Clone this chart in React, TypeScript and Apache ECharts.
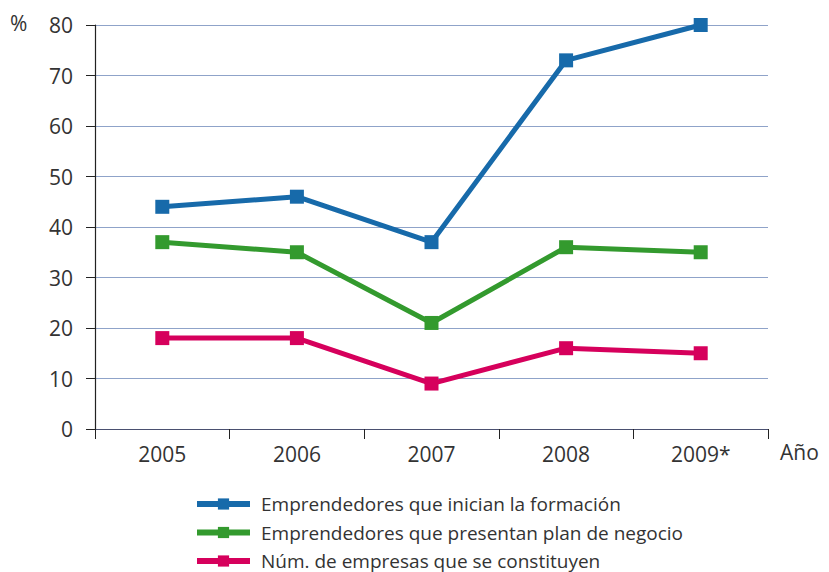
import React, { useEffect, useRef } from "react";
import * as echarts from "echarts";

const categories = ["2005", "2006", "2007", "2008", "2009*"];
const seriesNames = [
  "Emprendedores que inician la formación",
  "Emprendedores que presentan plan de negocio",
  "Núm. de empresas que se constituyen",
];
const iniciaFormacion = [44, 46, 37, 73, 80];
const presentanPlan = [37, 35, 21, 36, 35];
const empresasConstituyen = [18, 18, 9, 16, 15];
const colors = ["#176aaa", "#339a2e", "#d6005c"];

const FONT = "'Open Sans', 'Noto Sans', sans-serif";

export default function App() {
  const ref = useRef<HTMLDivElement>(null);
  useEffect(() => {
    if (!ref.current) return;
    const chart = echarts.init(ref.current, null, { renderer: "svg" });
    const values = [iniciaFormacion, presentanPlan, empresasConstituyen];
    const legendTops = [489, 517.5, 546];
    chart.setOption({
      animation: false,
      textStyle: { fontFamily: FONT },
      grid: { left: 95, top: 25, right: 61, bottom: 143, containLabel: false },
      legend: seriesNames.map((name, i) => ({
        orient: "vertical",
        left: 189,
        top: legendTops[i],
        itemWidth: 53,
        itemHeight: 14,
        lineStyle: { width: 6 },
        textStyle: { fontSize: 19, lineHeight: 20, color: "#333", fontFamily: FONT, padding: [0, 0, 0, 6] },
        data: [name],
      })),
      xAxis: {
        type: "category",
        data: categories,
        boundaryGap: true,
        axisLine: { lineStyle: { color: "#4a5070", width: 1.2 } },
        axisTick: { show: true, length: 10, inside: false, lineStyle: { color: "#222" } },
        axisLabel: { fontSize: 21, color: "#333", margin: 14, fontFamily: FONT },
        splitLine: { show: false },
      },
      yAxis: {
        type: "value",
        min: 0,
        max: 80,
        interval: 10,
        axisLine: { show: true, lineStyle: { color: "#222", width: 1.2 } },
        axisTick: { show: true, length: 9, lineStyle: { color: "#222" } },
        axisLabel: { fontSize: 21, color: "#333", margin: 22, fontFamily: FONT },
        splitLine: { show: true, lineStyle: { color: "#8fa3c9", width: 1 } },
      },
      graphic: [
        { type: "text", left: 10, top: 12, style: { text: "%", fontSize: 21, fill: "#333", fontFamily: FONT } },
        { type: "text", left: 780, top: 441, style: { text: "Año", fontSize: 21, fill: "#333", fontFamily: FONT } },
      ],
      series: seriesNames.map((name, i) => ({
        name,
        type: "line",
        data: values[i],
        symbol: "rect",
        symbolSize: 14,
        color: colors[i],
        lineStyle: { width: 5, color: colors[i] },
        itemStyle: { color: colors[i] },
        z: 3 - i,
      })),
    });
    return () => chart.dispose();
  }, []);
  return (
    <div
      ref={ref}
      style={{ position: "absolute", left: 0, top: 0, width: 829, height: 572 }}
    />
  );
}
